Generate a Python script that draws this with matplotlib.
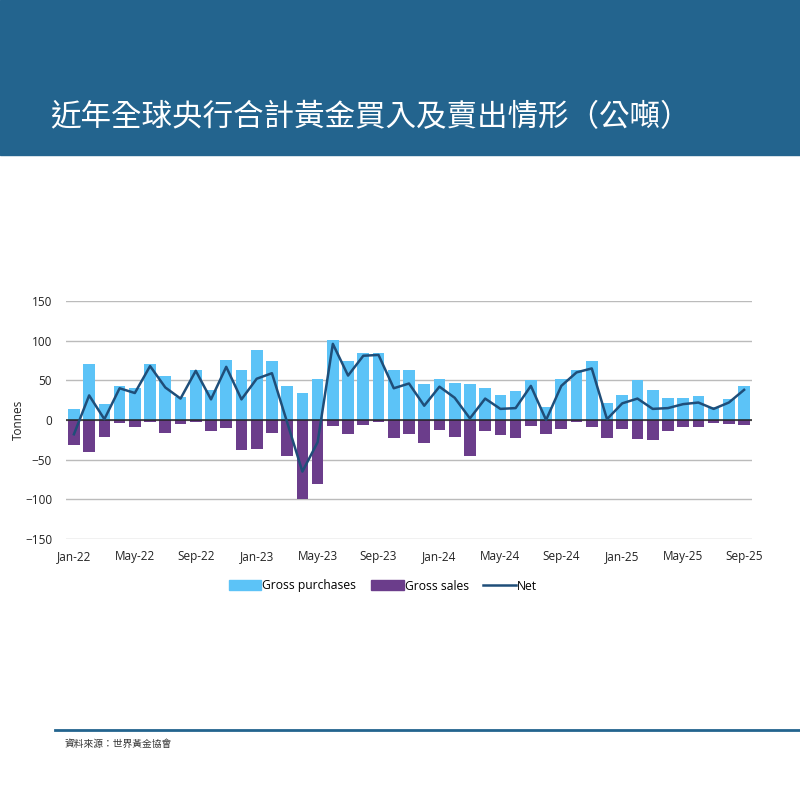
import numpy as np
import matplotlib
matplotlib.use('Agg')
import matplotlib.pyplot as plt
from matplotlib.patches import Patch
from matplotlib.lines import Line2D

plt.rcParams['font.family'] = ['Open Sans', 'Noto Sans CJK TC', 'DejaVu Sans']

months = ['Jan-22', 'Feb-22', 'Mar-22', 'Apr-22', 'May-22', 'Jun-22', 'Jul-22', 'Aug-22',
          'Sep-22', 'Oct-22', 'Nov-22', 'Dec-22', 'Jan-23', 'Feb-23', 'Mar-23', 'Apr-23',
          'May-23', 'Jun-23', 'Jul-23', 'Aug-23', 'Sep-23', 'Oct-23', 'Nov-23', 'Dec-23',
          'Jan-24', 'Feb-24', 'Mar-24', 'Apr-24', 'May-24', 'Jun-24', 'Jul-24', 'Aug-24',
          'Sep-24', 'Oct-24', 'Nov-24', 'Dec-24', 'Jan-25', 'Feb-25', 'Mar-25', 'Apr-25',
          'May-25', 'Jun-25', 'Jul-25', 'Aug-25', 'Sep-25']

gross_purchases = [14, 71, 20, 43, 40, 70, 55, 29, 63, 38, 76, 63, 88, 74, 43, 34,
                   52, 101, 74, 85, 85, 63, 63, 45, 52, 47, 46, 40, 31, 37, 50, 17,
                   52, 63, 74, 22, 31, 50, 38, 28, 28, 30, 16, 26, 43]

gross_sales = [-32, -40, -22, -4, -9, -3, -16, -5, -3, -14, -10, -38, -37, -16, -46, -100,
               -81, -7, -18, -6, -3, -23, -18, -29, -13, -22, -45, -14, -19, -23, -8, -18,
               -11, -3, -9, -23, -11, -24, -25, -14, -9, -9, -4, -5, -6]

net = [-18, 31, 1, 40, 34, 68, 41, 27, 62, 26, 67, 26, 52, 59, -3, -65,
       -28, 96, 56, 81, 82, 40, 46, 18, 42, 28, 2, 27, 14, 15, 43, 0,
       43, 60, 65, 1, 21, 27, 14, 15, 20, 22, 14, 22, 38]

yticks = [-150, -100, -50, 0, 50, 100, 150]

title = '近年全球央行合計黃金買入及賣出情形（公噸）'
source = '資料來源：世界黃金協會'

banner_col = '#23648E'
buy_col = '#5CC3F7'
sell_col = '#6B3D8B'
net_col = '#1F4E79'

fig = plt.figure(figsize=(8, 8), dpi=100)

# title banner
fig.patches.append(plt.Rectangle((0, 1 - 155 / 800), 1, 155 / 800, transform=fig.transFigure,
                                 color=banner_col, zorder=0))
fig.text(50 / 800, 1 - 118 / 800, title, color='white', fontsize=22, va='center', ha='left',
         family=['Noto Sans CJK TC', 'DejaVu Sans'])

ax = fig.add_axes([66 / 800, 1 - 539 / 800, 686 / 800, 238 / 800])
x = np.arange(len(months))
ax.bar(x, gross_purchases, width=0.77, color=buy_col, zorder=2)
ax.bar(x, gross_sales, width=0.77, color=sell_col, zorder=2)
ax.plot(x, net, color=net_col, lw=1.8, zorder=4)
ax.axhline(0, color='#222222', lw=1.1, zorder=3)

ax.set_xlim(-0.52, len(months) - 0.48)
ax.set_ylim(-150, 150)
ax.set_yticks(yticks)
ax.set_xticks(x[::4])
ax.set_xticklabels(months[::4])
ax.grid(axis='y', color='#BBBBBB', lw=1.0, zorder=0)
for s in ax.spines.values():
    s.set_visible(False)
ax.tick_params(length=0, labelsize=8.5, colors='#222222')
ax.tick_params(axis='x', pad=8)
ax.tick_params(axis='y', pad=10)
fig.text(18 / 800, 1 - 420 / 800, 'Tonnes', rotation=90, fontsize=8.5, color='#222222',
         ha='center', va='center')

handles = [Patch(color=buy_col, label='Gross purchases'),
           Patch(color=sell_col, label='Gross sales'),
           Line2D([0], [0], color=net_col, lw=1.8, label='Net')]
fig.legend(handles=handles, loc='center', bbox_to_anchor=(383 / 800, 1 - 586 / 800), ncol=3,
           frameon=False, fontsize=8.7, handlelength=2.7, handleheight=0.9,
           handletextpad=0.1, columnspacing=1.2)

# bottom rule and source
fig.add_artist(Line2D([55 / 800, 1], [1 - 730 / 800, 1 - 730 / 800], color=banner_col, lw=2,
                      transform=fig.transFigure))
fig.text(65 / 800, 1 - 744 / 800, source, fontsize=7, color='#333333', va='center', ha='left',
         family=['Noto Sans CJK TC', 'DejaVu Sans'])

fig.savefig('out.png', dpi=100)
